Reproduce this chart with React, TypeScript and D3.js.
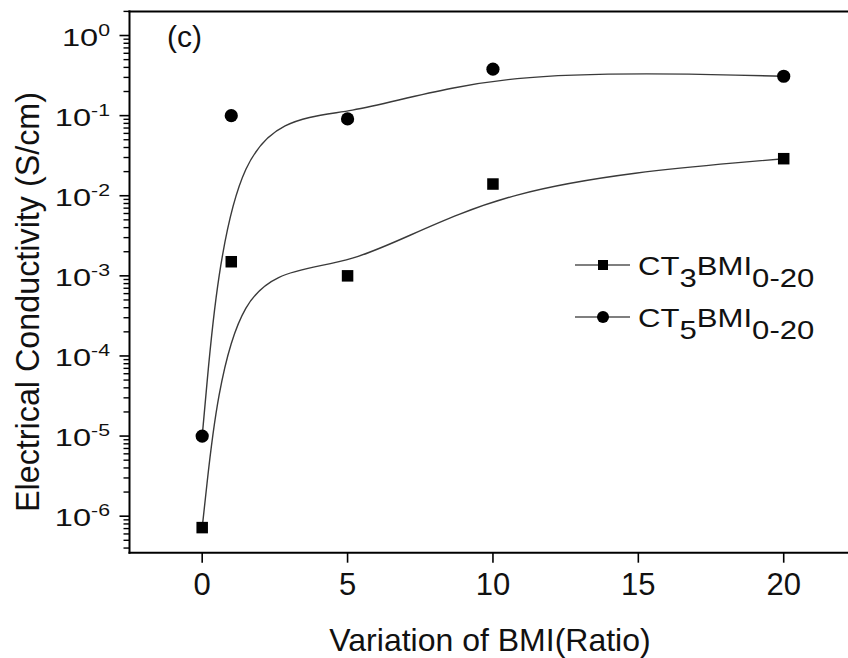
import React from "react";
import * as d3 from "d3";

const xValues = [0, 1, 5, 10, 20];
const ct3Values = [7.2e-7, 1.5e-3, 1.0e-3, 1.4e-2, 2.9e-2];
const ct5Values = [1.0e-5, 0.1, 0.091, 0.38, 0.31];
const xTicks = [0, 5, 10, 15, 20];
const yExponents = [0, -1, -2, -3, -4, -5, -6];
const legendLabels = [
  { main: "CT", sub1: "3", mid: "BMI", sub2: "0-20", marker: "square" },
  { main: "CT", sub1: "5", mid: "BMI", sub2: "0-20", marker: "circle" },
];
const xTitle = "Variation of BMI(Ratio)";
const yTitle = "Electrical Conductivity (S/cm)";
const panelLabel = "(c)";

const W = 848;
const H = 658;
const FONT = "'Liberation Sans', Arial, Helvetica, sans-serif";

export default function App() {
  const x = d3.scaleLinear().domain([-2.5, 22.5]).range([129.5, 856.4]);
  const y = d3.scaleLog().domain([3.5e-7, 2]).range([552.7, 11.4]);
  const [x0, x1] = x.range();
  const [yb, yt] = y.range();

  const minorTicks: number[] = [];
  for (let e = -7; e <= 0; e++) {
    for (let m = 2; m <= 9; m++) {
      const v = m * Math.pow(10, e);
      if (v >= 3.5e-7 && v <= 2) minorTicks.push(v);
    }
  }

  const line = d3
    .line<[number, number]>()
    .x((d) => x(d[0]))
    .y((d) => y(d[1]))
    .curve(d3.curveBasis);

  const s3 = xValues.map((v, i) => [v, ct3Values[i]] as [number, number]);
  const s5 = xValues.map((v, i) => [v, ct5Values[i]] as [number, number]);

  const sq = 11.5;
  const cr = 6.6;

  return (
    <svg
      width={W}
      height={H}
      style={{ position: "absolute", left: 0, top: 0, background: "#fff" }}
      fontFamily={FONT}
    >
      <rect x={0} y={0} width={W} height={H} fill="#fff" />
      {/* curves */}
      <path d={line(s3) || ""} fill="none" stroke="#3a3a3a" strokeWidth={1.4} />
      <path d={line(s5) || ""} fill="none" stroke="#3a3a3a" strokeWidth={1.4} />
      {/* markers */}
      {s3.map((d, i) => (
        <rect
          key={"s" + i}
          x={x(d[0]) - sq / 2}
          y={y(d[1]) - sq / 2}
          width={sq}
          height={sq}
          fill="#000"
        />
      ))}
      {s5.map((d, i) => (
        <circle key={"c" + i} cx={x(d[0])} cy={y(d[1])} r={cr} fill="#000" />
      ))}

      {/* frame */}
      <line x1={x0} x2={x0} y1={yt - 1} y2={yb + 1} stroke="#000" strokeWidth={2} />
      <line x1={x0 - 1} x2={x1} y1={yb} y2={yb} stroke="#000" strokeWidth={2} />
      <line x1={x0 - 1} x2={x1} y1={yt} y2={yt} stroke="#000" strokeWidth={2} />
      <line x1={x1} x2={x1} y1={yt} y2={yb} stroke="#000" strokeWidth={2} />

      {/* x ticks */}
      {xTicks.map((t) => (
        <g key={"xt" + t}>
          <line x1={x(t)} x2={x(t)} y1={yb} y2={yb + 10} stroke="#000" strokeWidth={1.6} />
          <text x={x(t)} y={595} fontSize={31} textAnchor="middle" fill="#111">
            {t}
          </text>
        </g>
      ))}

      {/* y ticks */}
      {yExponents.map((e) => {
        const yy = y(Math.pow(10, e));
        return (
          <g key={"yt" + e}>
            <line x1={x0} x2={x0 - 10} y1={yy} y2={yy} stroke="#000" strokeWidth={1.6} />
            <g transform={`translate(110,${yy + 10}) scale(1.33,1)`}>
              <text x={0} y={0} textAnchor="end" fill="#111">
                <tspan fontSize={24.5}>10</tspan>
                <tspan fontSize={16} dy={-10}>
                  {e === 0 ? "0" : "-" + Math.abs(e)}
                </tspan>
              </text>
            </g>
          </g>
        );
      })}
      {minorTicks.map((v, i) => (
        <line
          key={"mt" + i}
          x1={x0}
          x2={x0 - 6}
          y1={y(v)}
          y2={y(v)}
          stroke="#000"
          strokeWidth={1.4}
        />
      ))}

      {/* titles */}
      <text x={490} y={651} fontSize={32} textAnchor="middle" fill="#111">
        {xTitle}
      </text>
      <text
        transform={`translate(39,302) rotate(-90)`}
        fontSize={33}
        textAnchor="middle"
        fill="#111"
        textLength={420}
        lengthAdjust="spacingAndGlyphs"
      >
        {yTitle}
      </text>
      <text x={167} y={47} fontSize={30} fill="#111">
        {panelLabel}
      </text>

      {/* legend */}
      {legendLabels.map((l, i) => {
        const ly = 265 + i * 52;
        return (
          <g key={"lg" + i}>
            <line x1={575} x2={630} y1={ly} y2={ly} stroke="#555" strokeWidth={1.4} />
            {l.marker === "square" ? (
              <rect x={603 - 5} y={ly - 5} width={10} height={10} fill="#000" />
            ) : (
              <circle cx={603} cy={ly} r={6} fill="#000" />
            )}
            <g transform={`translate(638,${ly + 9.5}) scale(1.22,1)`}>
              <text x={0} y={0} fontSize={25.5} fill="#111">
                <tspan>{l.main}</tspan>
                <tspan dy={12}>{l.sub1}</tspan>
                <tspan dy={-12}>{l.mid}</tspan>
                <tspan dy={12}>{l.sub2}</tspan>
              </text>
            </g>
          </g>
        );
      })}
    </svg>
  );
}
